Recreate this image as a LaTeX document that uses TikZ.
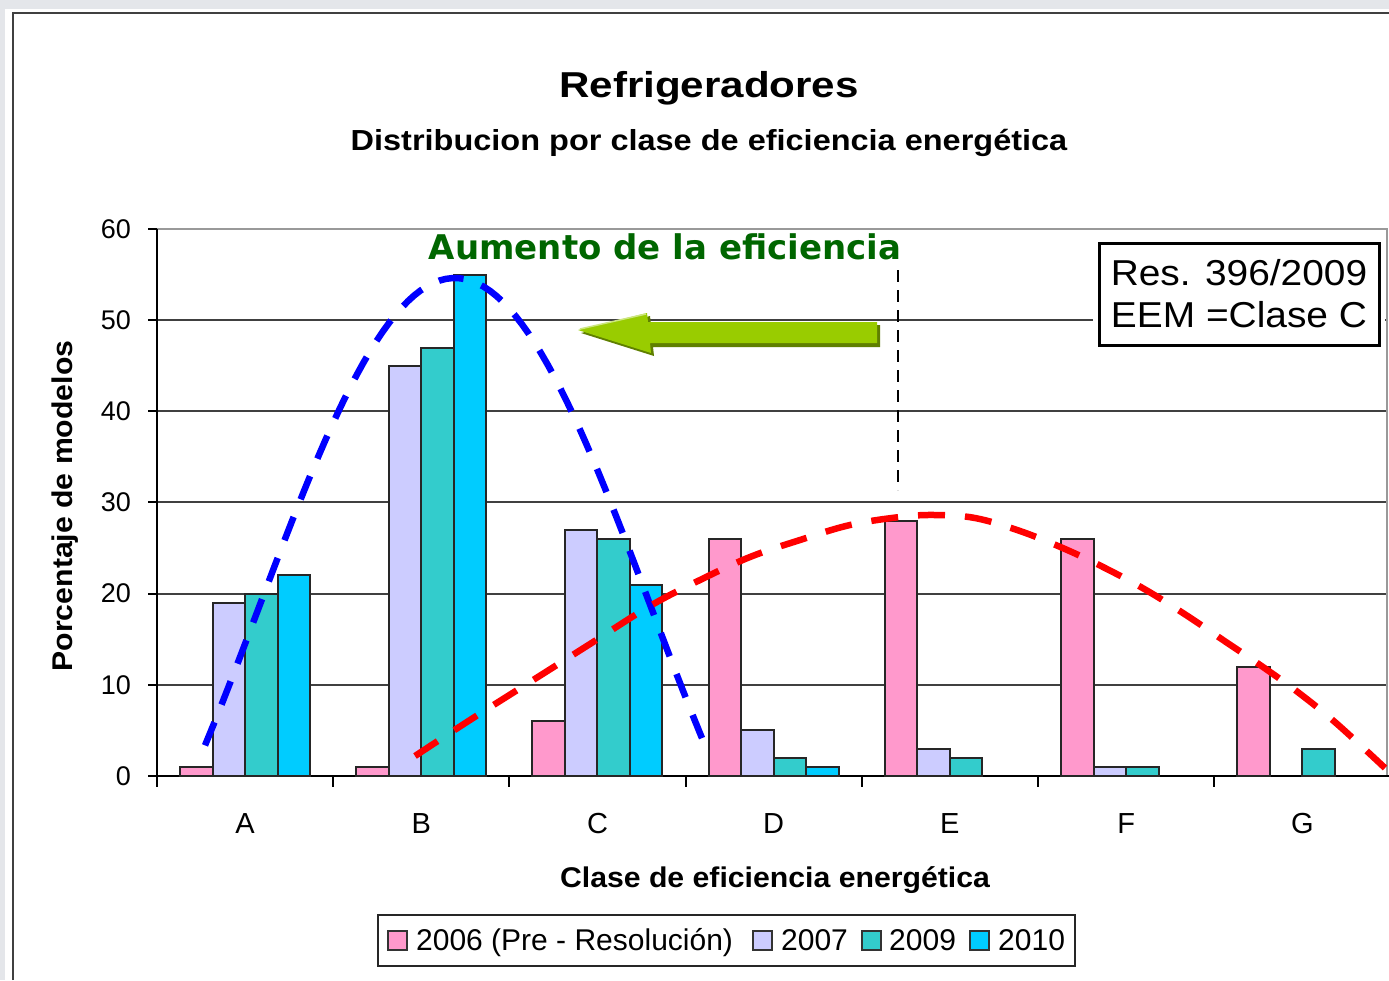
\documentclass[tikz,border=0pt]{standalone}
\usepackage{fontspec}
\setmainfont{Liberation Sans}
\newfontfamily\titlefont[FakeStretch=1.17]{Liberation Sans}
\newfontfamily\subfont[FakeStretch=1.12]{Liberation Sans}
\newfontfamily\axisfont[FakeStretch=1.06]{Liberation Sans}
\newfontfamily\resfont[FakeStretch=1.08]{Liberation Sans}
\newfontfamily\greenfont{DejaVu Sans}
\usepackage{xcolor}
\definecolor{c2006}{HTML}{FF99CC}
\definecolor{c2007}{HTML}{CCCCFF}
\definecolor{c2009}{HTML}{33CCCC}
\definecolor{c2010}{HTML}{00CCFF}
\definecolor{greentxt}{HTML}{006600}
\definecolor{arrowgreen}{HTML}{99CC00}
\definecolor{arrowdark}{HTML}{5F7F00}
\definecolor{arrowlight}{HTML}{CCE680}
\definecolor{pagegray}{HTML}{E4E6EA}
\usetikzlibrary{positioning}

\begin{document}
\begin{tikzpicture}[x=1pt, y=-1pt,
    grid/.style={draw=black!75, line width=2pt},
    topgrid/.style={draw=black!40, line width=2pt},
    axis/.style={draw=black, line width=2pt},
    bar/.style={draw=black!85, line width=2pt},
    ticklab/.style={inner sep=0pt, font=\fontsize{27}{30}\selectfont},
    catlab/.style={inner sep=0pt, anchor=base, font=\fontsize{29}{32}\selectfont},
    bluecurve/.style={draw=blue, line width=6.5pt, dash pattern=on 25pt off 19pt},
    redcurve/.style={draw=red, line width=6.5pt, dash pattern=on 27pt off 20pt},
    resbox/.style={draw=black, line width=3pt, fill=white, minimum width=280pt, minimum height=102pt,
        align=center, inner sep=0pt, preaction={draw=white, line width=12pt},
        font={\resfont\fontsize{36}{42}\selectfont}},
    legsq/.style={draw=black!80, line width=2pt},
    legtext/.style={inner sep=0pt, anchor=base west, font=\fontsize{30}{33}\selectfont}]

    \useasboundingbox (0,0) rectangle (1389,980);
    \fill[pagegray] (0,0) rectangle (1389,980);
    \fill[white] (5,9) rectangle (1389,980);
    \draw[black!75, line width=2pt] (13,980) -- (13,13) -- (1389,13);

    \node[anchor=base, inner sep=0pt, font={\titlefont\bfseries\fontsize{36}{40}\selectfont}] (title) at (709,97) {Refrigeradores};
    \node[anchor=base, inner sep=0pt, font={\subfont\bfseries\fontsize{29}{32}\selectfont}] (subtitle) at (709,150) {Distribucion por clase de eficiencia energética};

    \foreach \v in {10,20,...,50}
        \draw[grid] (157,{776-9.117*\v}) -- (1387,{776-9.117*\v});
    \draw[topgrid] (157,229) -- (1387,229) -- (1387,776);
    \draw[axis] (157,229) -- (157,776) -- (1389,776);
    \foreach \v in {0,10,...,60} {
        \draw[axis] (148,{776-9.117*\v}) -- (157,{776-9.117*\v});
        \node[ticklab, anchor=east] (y\v) at (131,{776-9.117*\v}) {\v};
    }
    \foreach \k in {0,...,7}
        \draw[axis] ({157+176.2*\k},776) -- ({157+176.2*\k},787);
    \foreach \c [count=\k from 0] in {A,B,C,D,E,F,G}
        \node[catlab] (cat\c) at ({157+176.2*(\k+0.5)},833) {\c};

    \node[rotate=90, anchor=base, inner sep=0pt, font={\axisfont\bfseries\fontsize{28.5}{32}\selectfont}] (ytitle) at (72,506) {Porcentaje de modelos};
    \node[anchor=base, inner sep=0pt, font={\axisfont\bfseries\fontsize{28.5}{32}\selectfont}] (xtitle) at (775,887) {Clase de eficiencia energética};

    \foreach \k/\a/\b/\c/\d in {0/1/19/20/22, 1/1/45/47/55, 2/6/27/26/21, 3/26/5/2/1, 4/28/3/2/0, 5/26/1/1/0, 6/12/0/3/0}
        \foreach \v/\col [count=\j from 0] in {\a/c2006, \b/c2007, \c/c2009, \d/c2010} {
            \ifnum\v>0
                \draw[bar, fill=\col] ({180+176.2*\k+32.5*\j},776) rectangle ({212.5+176.2*\k+32.5*\j},{776-9.117*\v});
            \fi
        }

    \coordinate (ctop) at (898,270);
    \coordinate (cbot) at (898,490);
    \draw[black, line width=2.5pt, dash pattern=on 12pt off 8pt] (ctop) -- (cbot);

    \fill[arrowdark] (581,333) -- (650,316) -- (651,325) -- (880,325) -- (880,347) -- (653,347) -- (654,356) -- cycle;
    \fill[arrowgreen] (578,330) -- (647,313) -- (648,322) -- (877,322) -- (877,343) -- (650,343) -- (651,353) -- cycle;
    \draw[arrowlight, line width=1.5pt] (580,329) -- (646,314);

    \draw[bluecurve] plot[domain=205:706, samples=80] (\x, {278+330*(1-cos(0.4584*(\x-455)))});
    \draw[redcurve] plot[smooth, tension=0.6] coordinates {(415,756) (470,720) (530,682) (590,644) (650,606)
        (700,580) (750,557) (800,540) (850,525) (900,517) (935,515) (975,518) (1020,531) (1065,549)
        (1105,568) (1146,590) (1186,615) (1223,640) (1263,667) (1299,693) (1336,723) (1385,768)};

    \node[anchor=base, inner sep=0pt, text=greentxt, font={\greenfont\bfseries\fontsize{34}{38}\selectfont}] (aumento) at (665,259) {Aumento de la eficiencia};

    \node[resbox] (res) at (1239,294) {Res. 396/2009\\EEM =Clase C};

    \draw[black!85, line width=2pt] (378,915) rectangle (1075,966);
    \foreach \x/\col in {388/c2006, 753/c2007, 862/c2009, 970/c2010}
        \draw[legsq, fill=\col] (\x,931) rectangle +(19,19);
    \node[legtext] (l2006) at (416,950) {2006 (Pre - Resolución)};
    \node[legtext] (l2007) at (781,950) {2007};
    \node[legtext] (l2009) at (889,950) {2009};
    \node[legtext] (l2010) at (998,950) {2010};
\end{tikzpicture}
\end{document}
